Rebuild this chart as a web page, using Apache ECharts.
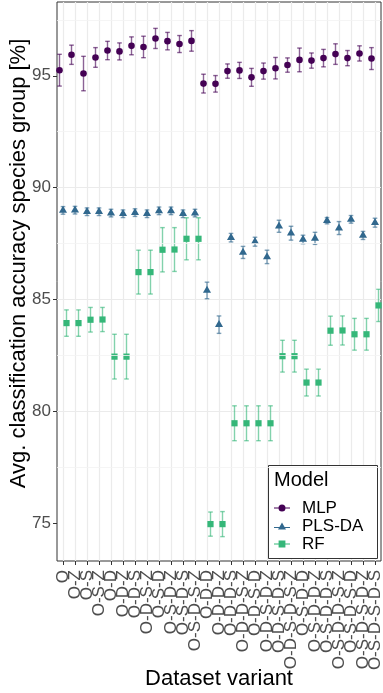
<!DOCTYPE html>
<html><head><meta charset="utf-8">
<script src="https://cdn.jsdelivr.net/npm/echarts@6/dist/echarts.min.js"></script>
<style>html,body{margin:0;padding:0;background:#fff}#c{width:383px;height:693px}</style>
</head><body><div id="c"></div>
<script>
const categories = ['O','O-Z','O-S','O-S-Z','O-D','O-D-Z','O-D-S','O-D-S-Z','O-S-D','O-S-D-Z','O-S-D-S','O-S-D-S-Z',
  'O-D-D','O-D-D-Z','O-D-D-S','O-D-D-S-Z','O-D-S-D','O-D-S-D-Z','O-D-S-D-S','O-D-S-D-S-Z',
  'O-S-D-D','O-S-D-D-Z','O-S-D-D-S','O-S-D-D-S-Z','O-S-D-S-D','O-S-D-S-D-Z','O-S-D-S-D-S'];
const mlpMean = [95.25,95.94,95.10,95.82,96.13,96.09,96.34,96.29,96.67,96.55,96.42,96.56,
  94.65,94.64,95.21,95.24,94.93,95.21,95.34,95.48,95.71,95.68,95.79,95.97,95.79,96.00,95.77];
const mlpErr = [0.71,0.43,0.77,0.44,0.41,0.38,0.40,0.48,0.45,0.39,0.38,0.46,
  0.42,0.37,0.32,0.36,0.40,0.36,0.48,0.32,0.53,0.34,0.39,0.46,0.34,0.34,0.49];
const plsMean = [88.98,88.99,88.92,88.92,88.86,88.83,88.88,88.83,88.96,88.96,88.83,88.86,
  85.40,83.87,87.76,87.10,87.58,86.90,88.27,87.96,87.68,87.73,88.52,88.19,88.58,87.86,88.43];
const plsErr = [0.17,0.17,0.17,0.17,0.17,0.17,0.17,0.17,0.17,0.17,0.17,0.17,
  0.37,0.39,0.19,0.27,0.20,0.30,0.27,0.31,0.19,0.27,0.14,0.29,0.17,0.18,0.20];
const rfMean = [83.94,83.94,84.09,84.10,82.44,82.44,86.22,86.22,87.22,87.23,87.71,87.71,
  74.95,74.95,79.46,79.46,79.46,79.46,82.46,82.46,81.28,81.28,83.60,83.61,83.44,83.44,84.73];
const rfErr = [0.59,0.59,0.55,0.54,1.00,1.00,0.98,0.98,0.99,0.98,0.94,0.94,
  0.54,0.56,0.78,0.78,0.78,0.78,0.71,0.71,0.60,0.60,0.65,0.65,0.71,0.71,0.72];
const yMajorTicks = [75,80,85,90,95];
const yMinorTicks = [77.5,82.5,87.5,92.5,97.5];

const COLORS = {MLP:'#440154', 'PLS-DA':'#31688E', RF:'#35B779'};
const BAR = {MLP:'rgba(68,1,84,0.62)', 'PLS-DA':'rgba(49,104,142,0.62)', RF:'rgba(53,183,121,0.62)'};
const FONT = '"Liberation Sans", Arial, Helvetica, sans-serif';

function makeSeries(name, means, errs, offset, shape) {
  const color = COLORS[name];
  const bar = BAR[name];
  return {
    type: 'custom', name: name, z: 2,
    data: means.map((m, i) => [i, m, errs[i]]),
    encode: {x: 0, y: 1},
    itemStyle: {color: color},
    renderItem: function (params, api) {
      const i = api.value(0), m = api.value(1), e = api.value(2);
      const c = api.coord([i, m]);
      const top = api.coord([i, m + e])[1];
      const bot = api.coord([i, m - e])[1];
      const x = c[0] + offset, y = c[1];
      const cap = 2.3;
      const bs = {stroke: bar, lineWidth: 1.4, fill: null};
      const children = [
        {type: 'line', shape: {x1: x, y1: top, x2: x, y2: bot}, style: bs},
        {type: 'line', shape: {x1: x - cap, y1: top, x2: x + cap, y2: top}, style: bs},
        {type: 'line', shape: {x1: x - cap, y1: bot, x2: x + cap, y2: bot}, style: bs}
      ];
      if (shape === 'circle') {
        children.push({type: 'circle', shape: {cx: x, cy: y, r: 3.3}, style: {fill: color}});
      } else if (shape === 'triangle') {
        const R = 3.0;
        children.push({type: 'polygon', shape: {points: [[x, y - 1.555 * R], [x + 1.347 * R, y + 0.778 * R], [x - 1.347 * R, y + 0.778 * R]]}, style: {fill: color}});
      } else {
        children.push({type: 'rect', shape: {x: x - 3.1, y: y - 3.1, width: 6.2, height: 6.2}, style: {fill: color}});
      }
      return {type: 'group', children: children};
    }
  };
}

const chart = echarts.init(document.getElementById('c'), null, {renderer: 'canvas'});
const option = {
  animation: false,
  backgroundColor: '#fff',
  grid: {left: 57, right: 2, top: 2, bottom: 132, show: true, borderColor: '#333333', borderWidth: 1,
    backgroundColor: '#fff', containLabel: false, outerBoundsMode: 'none'},
  xAxis: {
    type: 'category', data: categories, boundaryGap: true,
    name: 'Dataset variant', nameLocation: 'middle', nameGap: 107, nameMoveOverlap: false,
    nameTextStyle: {fontSize: 22, color: '#000', fontFamily: FONT},
    axisLine: {show: false},
    axisTick: {show: true, alignWithLabel: true, interval: 0, length: 4, lineStyle: {color: '#333333', width: 1}},
    axisLabel: {interval: 0, rotate: 90, margin: 9, fontSize: 17, color: '#4D4D4D', fontFamily: FONT},
    splitLine: {show: true, alignWithLabel: true, interval: 0, lineStyle: {color: '#EBEBEB', width: 1.2}}
  },
  yAxis: {
    type: 'value', min: 73.3, max: 98.3,
    name: 'Avg. classification accuracy species group [%]', nameLocation: 'middle', nameGap: 27, nameRotate: 90,
    nameMoveOverlap: false,
    nameTextStyle: {fontSize: 22, color: '#000', fontFamily: FONT, padding: [0, 0, 0, 36]},
    axisLine: {show: false},
    axisTick: {show: true, length: 4, customValues: yMajorTicks, lineStyle: {color: '#333333', width: 1}},
    axisLabel: {fontSize: 17, color: '#4D4D4D', fontFamily: FONT, margin: 6, customValues: yMajorTicks},
    splitLine: {show: true, showMinLine: false, showMaxLine: false, lineStyle: {color: '#EBEBEB', width: 1.2}}
  },
  legend: {
    orient: 'vertical', left: 274, top: 499, padding: 0, itemGap: 0, z: 6,
    itemWidth: 16, itemHeight: 8,
    textStyle: {fontSize: 17, color: '#000', fontFamily: FONT, lineHeight: 18, padding: [0, 0, 0, 7]},
    data: [
      {name: 'MLP', icon: 'path://M0,3.4H16V4.6H0Z M4.5,4A3.5,3.5 0 1,1 11.5,4A3.5,3.5 0 1,1 4.5,4Z'},
      {name: 'PLS-DA', icon: 'path://M0,4.4H16V5.6H0Z M8,0L12,7L4,7Z'},
      {name: 'RF', icon: 'path://M0,3.4H16V4.6H0Z M4.6,0.6H11.4V7.4H4.6Z'}
    ]
  },
  graphic: [
    {type: 'rect', left: 268, top: 465, z: 3, shape: {width: 109, height: 93}, style: {fill: '#fff', stroke: '#333333', lineWidth: 1}},
    {type: 'text', left: 274, top: 470, z: 7, style: {text: 'Model', font: '20px ' + FONT, fill: '#000'}}
  ],
  series: [
    {type: 'line', name: '_grid', data: [], z: 1, silent: true,
      markLine: {silent: true, symbol: ['none', 'none'], label: {show: false},
        lineStyle: {color: '#F2F2F2', width: 0.8, type: 'solid'},
        data: yMinorTicks.map(v => ({yAxis: v}))}},
    makeSeries('MLP', mlpMean, mlpErr, -3.5, 'circle'),
    makeSeries('PLS-DA', plsMean, plsErr, 0, 'triangle'),
    makeSeries('RF', rfMean, rfErr, 3.5, 'square')
  ]
};
chart.setOption(option);
</script></body></html>
